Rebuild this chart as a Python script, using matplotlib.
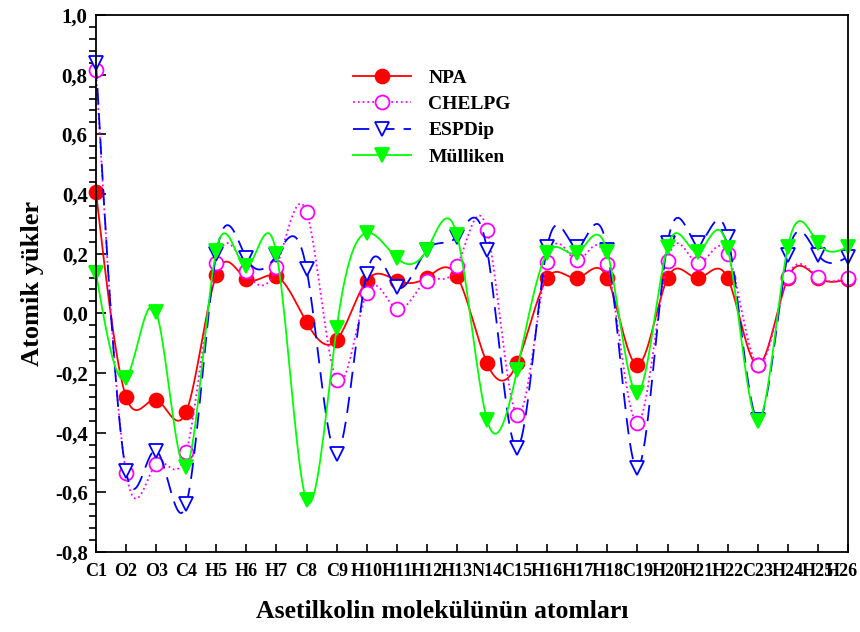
import matplotlib
matplotlib.use("Agg")
from matplotlib import pyplot as plt
from matplotlib.ticker import MultipleLocator, FuncFormatter
import matplotlib.transforms as mtrans
import numpy as np

atoms = ['C1', 'O2', 'O3', 'C4', 'H5', 'H6', 'H7', 'C8', 'C9', 'H10', 'H11', 'H12', 'H13',
         'N14', 'C15', 'H16', 'H17', 'H18', 'C19', 'H20', 'H21', 'H22', 'C23', 'H24', 'H25', 'H26']

npa = [0.407, -0.28, -0.29, -0.33, 0.13, 0.115, 0.125, -0.03, -0.09, 0.11, 0.11, 0.12, 0.125,
       -0.167, -0.167, 0.118, 0.118, 0.118, -0.173, 0.118, 0.118, 0.118, -0.173, 0.118, 0.12, 0.115]
chelpg = [0.816, -0.535, -0.505, -0.465, 0.168, 0.143, 0.155, 0.34, -0.223, 0.068, 0.015, 0.11, 0.157,
          0.28, -0.34, 0.172, 0.178, 0.165, -0.367, 0.175, 0.168, 0.2, -0.173, 0.122, 0.122, 0.12]
espdip = [0.84, -0.53, -0.46, -0.64, 0.2, 0.185, 0.195, 0.148, -0.47, 0.132, 0.088, 0.213, 0.257,
          0.213, -0.45, 0.223, 0.223, 0.213, -0.52, 0.235, 0.235, 0.257, -0.357, 0.196, 0.196, 0.19]
mulliken = [0.135, -0.217, 0.005, -0.515, 0.21, 0.157, 0.2, -0.627, -0.05, 0.27, 0.185, 0.213, 0.262,
            -0.357, -0.19, 0.202, 0.202, 0.206, -0.267, 0.223, 0.206, 0.219, -0.36, 0.223, 0.235, 0.223]


# natural cubic spline through the points (numpy only)
def spline(x, y, n=20):
    x = np.asarray(x, float)
    y = np.asarray(y, float)
    k = len(x)
    h = np.diff(x)
    A = np.zeros((k, k))
    b = np.zeros(k)
    A[0, 0] = 1
    A[-1, -1] = 1
    for i in range(1, k - 1):
        A[i, i - 1] = h[i - 1]
        A[i, i] = 2 * (h[i - 1] + h[i])
        A[i, i + 1] = h[i]
        b[i] = 3 * ((y[i + 1] - y[i]) / h[i] - (y[i] - y[i - 1]) / h[i - 1])
    c = np.linalg.solve(A, b)
    xs, ys = [], []
    for i in range(k - 1):
        bb = (y[i + 1] - y[i]) / h[i] - h[i] * (2 * c[i] + c[i + 1]) / 3
        d = (c[i + 1] - c[i]) / (3 * h[i])
        t = np.linspace(0, h[i], n, endpoint=False)
        xs.append(x[i] + t)
        ys.append(y[i] + bb * t + c[i] * t ** 2 + d * t ** 3)
    xs.append([x[-1]])
    ys.append([y[-1]])
    return np.concatenate(xs), np.concatenate(ys)


plt.rcParams['font.family'] = ['Liberation Serif', 'DejaVu Serif']
plt.rcParams['font.weight'] = 'bold'

fig = plt.figure(figsize=(8.6, 6.32), dpi=100)
ax = fig.add_axes([96 / 860, 1 - 552 / 632, 752 / 860, 537 / 632])

xpos = np.arange(len(atoms))

series = [
    ('NPA', npa, '#ff0000', '-', 'o', '#ff0000'),
    ('CHELPG', chelpg, '#ff00ff', ':', 'o', 'white'),
    ('ESPDip', espdip, '#0000ff', (0, (9, 5)), 'v', 'white'),
    ('Mülliken', mulliken, '#00ff00', '-', 'v', '#00ff00'),
]

for name, vals, col, ls, mk, fc in series:
    sx, sy = spline(xpos, vals)
    ax.plot(sx, sy, color=col, linestyle=ls, linewidth=1.3, clip_on=False)
    ax.plot(xpos, vals, linestyle='none', marker=mk, markersize=10,
            markerfacecolor=fc, markeredgecolor=col, markeredgewidth=1.3, clip_on=False)
    # proxy for legend
    ax.plot([], [], color=col, linestyle=ls, linewidth=1.3, marker=mk, markersize=10,
            markerfacecolor=fc, markeredgecolor=col, markeredgewidth=1.3, label=name)

ax.set_xlim(0, len(atoms) - 1)
ax.set_ylim(-0.8, 1.0)
ax.set_xticks(xpos)
ax.set_xticklabels(atoms)
ax.yaxis.set_major_locator(MultipleLocator(0.2))
ax.yaxis.set_minor_locator(MultipleLocator(0.04))
ax.yaxis.set_major_formatter(FuncFormatter(lambda v, p: ('%.1f' % v).replace('.', ',').replace('-0,0', '0,0')))
ax.tick_params(axis='both', direction='in', top=False, right=False)
ax.tick_params(axis='y', which='major', length=7, width=1.2, labelsize=15, pad=6)
ax.tick_params(axis='y', which='minor', length=5, width=1.2)
ax.tick_params(axis='x', length=6, width=1.2, pad=8, labelsize=13)
for lbl in ax.get_xticklabels() + ax.get_yticklabels():
    lbl.set_fontweight('bold')
# last label sits a bit inside, like the original
last = ax.get_xticklabels()[-1]
last.set_transform(last.get_transform() + mtrans.ScaledTranslation(-6 / 100, 0, fig.dpi_scale_trans))
for sp in ax.spines.values():
    sp.set_linewidth(1.3)

ax.set_ylabel('Atomik yükler', fontsize=19, fontweight='bold', labelpad=8)
fig.text(442 / 860, 1 - 612 / 632, 'Asetilkolin molekülünün atomları', fontsize=18.5,
         fontweight='bold', ha='center', va='center')

handles, labels = ax.get_legend_handles_labels()
leg = ax.legend(handles, labels, loc='upper left', bbox_to_anchor=(0.318, 0.932), frameon=False,
                prop={'size': 14, 'weight': 'bold'}, handlelength=3, handletextpad=0.9, labelspacing=0.45)

plt.savefig('out.png', dpi=100)
